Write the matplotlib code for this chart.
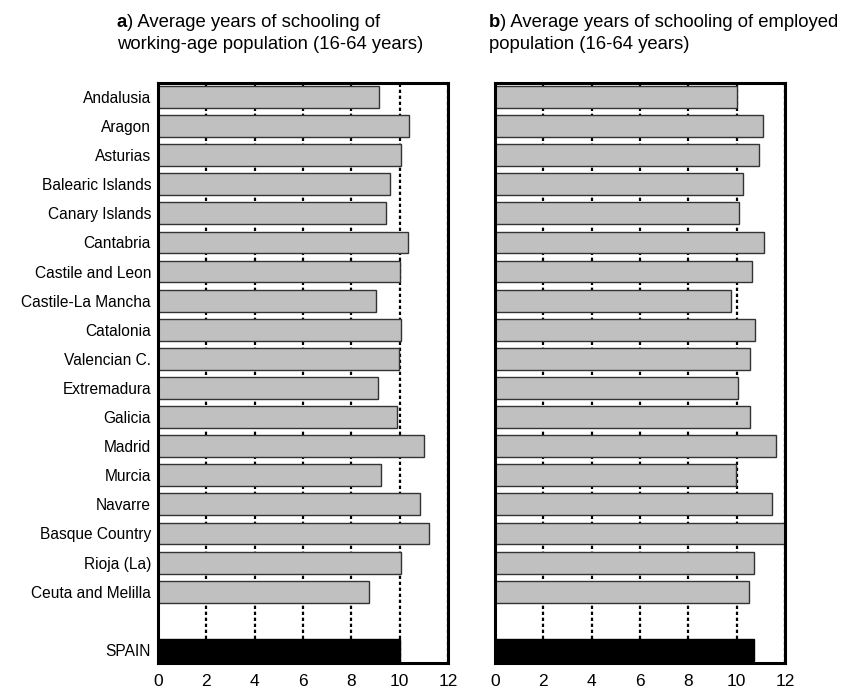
import numpy as np
import matplotlib
matplotlib.use("Agg")
import matplotlib.pyplot as plt

plt.rcParams["font.family"] = ["Liberation Sans", "DejaVu Sans"]

regions = ["Andalusia", "Aragon", "Asturias", "Balearic Islands", "Canary Islands",
           "Cantabria", "Castile and Leon", "Castile-La Mancha", "Catalonia",
           "Valencian C.", "Extremadura", "Galicia", "Madrid", "Murcia", "Navarre",
           "Basque Country", "Rioja (La)", "Ceuta and Melilla"]
working_age = [9.13, 10.37, 10.07, 9.60, 9.42, 10.33, 10.03, 9.02, 10.07, 9.96,
               9.10, 9.88, 11.00, 9.21, 10.84, 11.20, 10.07, 8.72]
employed = [10.00, 11.08, 10.91, 10.25, 10.08, 11.12, 10.64, 9.75, 10.76, 10.57,
            10.04, 10.57, 11.62, 9.97, 11.45, 12.00, 10.71, 10.51]
spain_label = "SPAIN"
spain_working_age = 10.01
spain_employed = 10.73
xticks = [0, 2, 4, 6, 8, 10, 12]

W, H = 842, 693
fig = plt.figure(figsize=(W / 100, H / 100), dpi=100)

y_reg = np.arange(len(regions))
y_spain = len(regions) + 1
labels_pos = list(y_reg) + [y_spain]
labels = regions + [spain_label]


def panel(left_px, right_px, values, spain_val, show_labels):
    ax = fig.add_axes([left_px / W, 1 - 663 / H, (right_px - left_px) / W, (663 - 83) / H])
    ax.barh(y_reg, values, height=0.75, color="#c0c0c0", edgecolor="#333333",
            linewidth=1, zorder=3)
    ax.barh(y_spain, spain_val, height=0.75, color="black", edgecolor="black",
            linewidth=1, zorder=3)
    for x in xticks[1:]:
        ax.axvline(x, color="black", linestyle=(0, (1.5, 1.2)), linewidth=1.6, zorder=1)
    ax.set_xlim(0, 12)
    ax.set_ylim(y_spain + 0.45, -0.48)
    ax.set_xticks(xticks)
    ax.set_xticklabels([str(t) for t in xticks], fontsize=12.5)
    ax.tick_params(axis="x", length=0, pad=8)
    ax.set_yticks(labels_pos)
    if show_labels:
        ax.set_yticklabels(labels, fontsize=11.2)
    else:
        ax.set_yticklabels([])
    ax.tick_params(axis="y", length=0, pad=5)
    for s in ax.spines.values():
        s.set_linewidth(2.2)
        s.set_zorder(5)
    return ax


panel(158, 448, working_age, spain_working_age, True)
panel(495, 785, employed, spain_employed, False)


# titles: bold panel letter followed by normal text
def title(x_px, lines, letter):
    t = fig.text(x_px / W, 1 - 27 / H, letter, fontsize=13.3, fontweight="bold",
                 va="baseline", ha="left")
    plt.annotate(lines[0], xy=(1, 0), xycoords=t, va="bottom", ha="left",
                 fontsize=13.3, annotation_clip=False)
    fig.text(x_px / W, 1 - 49 / H, lines[1], fontsize=13.3, va="baseline", ha="left")


title(117, [") Average years of schooling of", "working-age population (16-64 years)"], "a")
title(489, [") Average years of schooling of employed", "population (16-64 years)"], "b")

fig.savefig("out.png", dpi=100)
